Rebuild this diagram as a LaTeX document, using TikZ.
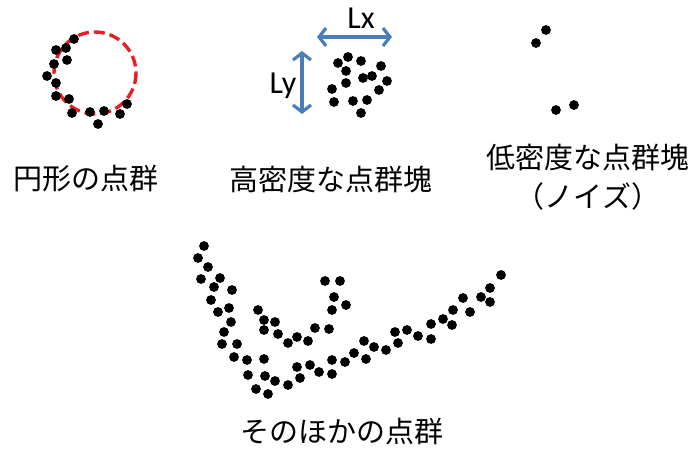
\documentclass[tikz,border=0pt]{standalone}
\usepackage{fontspec}
\setmainfont{Carlito}
\newfontfamily\jpfont{Noto Sans CJK JP}
\usetikzlibrary{arrows.meta}
\definecolor{dimblue}{RGB}{74,126,187}
\definecolor{ringred}{RGB}{232,32,38}

\begin{document}
\begin{tikzpicture}[x=1pt,y=-1pt,
dot/.style={fill=black},
ring/.style={draw=ringred,line width=3.4pt,dash pattern=on 11pt off 5pt},
dim/.style={draw=dimblue,line width=3.2pt,>={Straight Barb[length=7pt,width=18pt]},<->},
lbl/.style={font=\jpfont\fontsize{29}{39}\selectfont,align=center},
axis/.style={font=\fontsize{32}{36}\selectfont}]
\useasboundingbox (0,0) rectangle (695,455);
% circular group
\draw[ring] (95,73) circle (41);
\foreach \x/\y in {74/39,66/48,56/50,67/60,54/64,47/76,56/83,56/96,69/99,72/113,90/112,104/111,120/114,127/104,98/124}
  \fill[dot] (\x,\y) circle (4.9);
% dense block with its extents
\foreach \x/\y in {348/57,361/61,338/63,346/71,381/66,372/76,363/78,387/81,346/83,332/89,379/90,334/102,353/101,367/100,361/113}
  \fill[dot] (\x,\y) circle (4.9);
\coordinate (lxa) at (317,37);\coordinate (lxb) at (392,37);
\coordinate (lya) at (302,51);\coordinate (lyb) at (302,114);
\draw[dim] (lxa)--(lxb);\draw[dim] (lya)--(lyb);
\node[axis] (lx) at (361,18){Lx};
\node[axis] (ly) at (283,86){Ly};
% sparse noise
\foreach \x/\y in {546/30,536/43,574/105,556/110}
  \fill[dot] (\x,\y) circle (4.9);
% other points
\foreach \x/\y in {204/246,198/258,208/267,201/279,220/278,214/287,232/290,211/300,218/312,229/308,231/322,224/332,
  258/310,264/320,275/322,264/330,278/334,297/337,288/343,222/344,237/344,234/357,247/360,264/359,
  248/375,265/376,275/381,288/385,256/389,268/394,297/367,300/378,
  325/281,340/281,334/297,346/305,332/310,315/328,329/329,308/341,364/341,374/347,386/350,395/332,
  407/330,398/343,354/353,345/362,366/359,332/360,310/365,319/372,332/374,
  501/275,490/288,463/298,481/297,490/302,453/310,470/312,443/319,452/325,431/324,418/336,431/339}
  \fill[dot] (\x,\y) circle (4.9);
% captions
\node[lbl] (circlbl) at (86,179){円形の点群};
\node[lbl] (denselbl) at (331,180){高密度な点群塊};
\node[lbl] (noiselbl) at (588,177){低密度な点群塊\\（ノイズ）};
\node[lbl] (otherlbl) at (342,431){そのほかの点群};
\end{tikzpicture}
\end{document}
